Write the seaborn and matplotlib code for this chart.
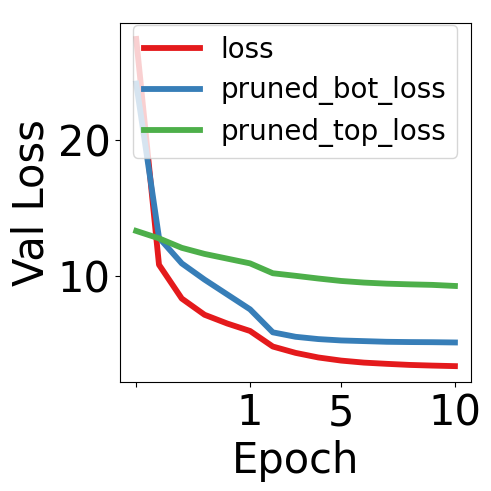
import pandas as pd
import matplotlib
matplotlib.use("Agg")
import matplotlib.pyplot as plt
import seaborn as sns

# epochs: fractions of the first epoch, then whole epochs
epochs = [0, 0.2, 0.4, 0.6, 0.8, 1, 2, 3, 4, 5, 6, 7, 8, 9, 10]
loss = [27.5, 10.8, 8.3, 7.1, 6.45, 5.9, 4.75, 4.28, 3.94, 3.71, 3.56, 3.47, 3.39, 3.34, 3.3]
pruned_bot_loss = [24.2, 12.8, 10.9, 9.7, 8.6, 7.5, 5.8, 5.47, 5.3, 5.2, 5.15, 5.1, 5.08, 5.07, 5.05]
pruned_top_loss = [13.3, 12.75, 12.05, 11.6, 11.25, 10.9, 10.17, 9.98, 9.78, 9.6, 9.48, 9.4, 9.35, 9.31, 9.23]

tick_epochs = [0, 1, 5, 10]
tick_labels = ["", "1", "5", "10"]

# Creating the DataFrame (x is the position of each logged epoch)
df = pd.DataFrame({
    "step": list(range(len(epochs))),
    "loss": loss,
    "pruned_bot_loss": pruned_bot_loss,
    "pruned_top_loss": pruned_top_loss,
})
long_df = df.melt(id_vars="step", var_name="kind", value_name="val")

fig = plt.figure(figsize=(4.91, 4.91), dpi=100)
ax = fig.add_axes([0.245, 0.221, 0.714, 0.733])
sns.lineplot(data=long_df, x="step", y="val", hue="kind",
             palette=sns.color_palette("Set1", 3), linewidth=4.2, ax=ax)

ax.set_xticks([epochs.index(e) for e in tick_epochs])
ax.set_xticklabels(tick_labels)
ax.tick_params(labelsize=30)
ax.set_xlabel("Epoch", fontsize=30)
ax.set_ylabel("Val Loss", fontsize=30)
ax.legend(fontsize=20, loc="upper left", bbox_to_anchor=(0.036, 0.994),
          borderaxespad=0, labelspacing=0.45, handlelength=2.0,
          handletextpad=0.75)

plt.savefig("out.png", dpi=100)
